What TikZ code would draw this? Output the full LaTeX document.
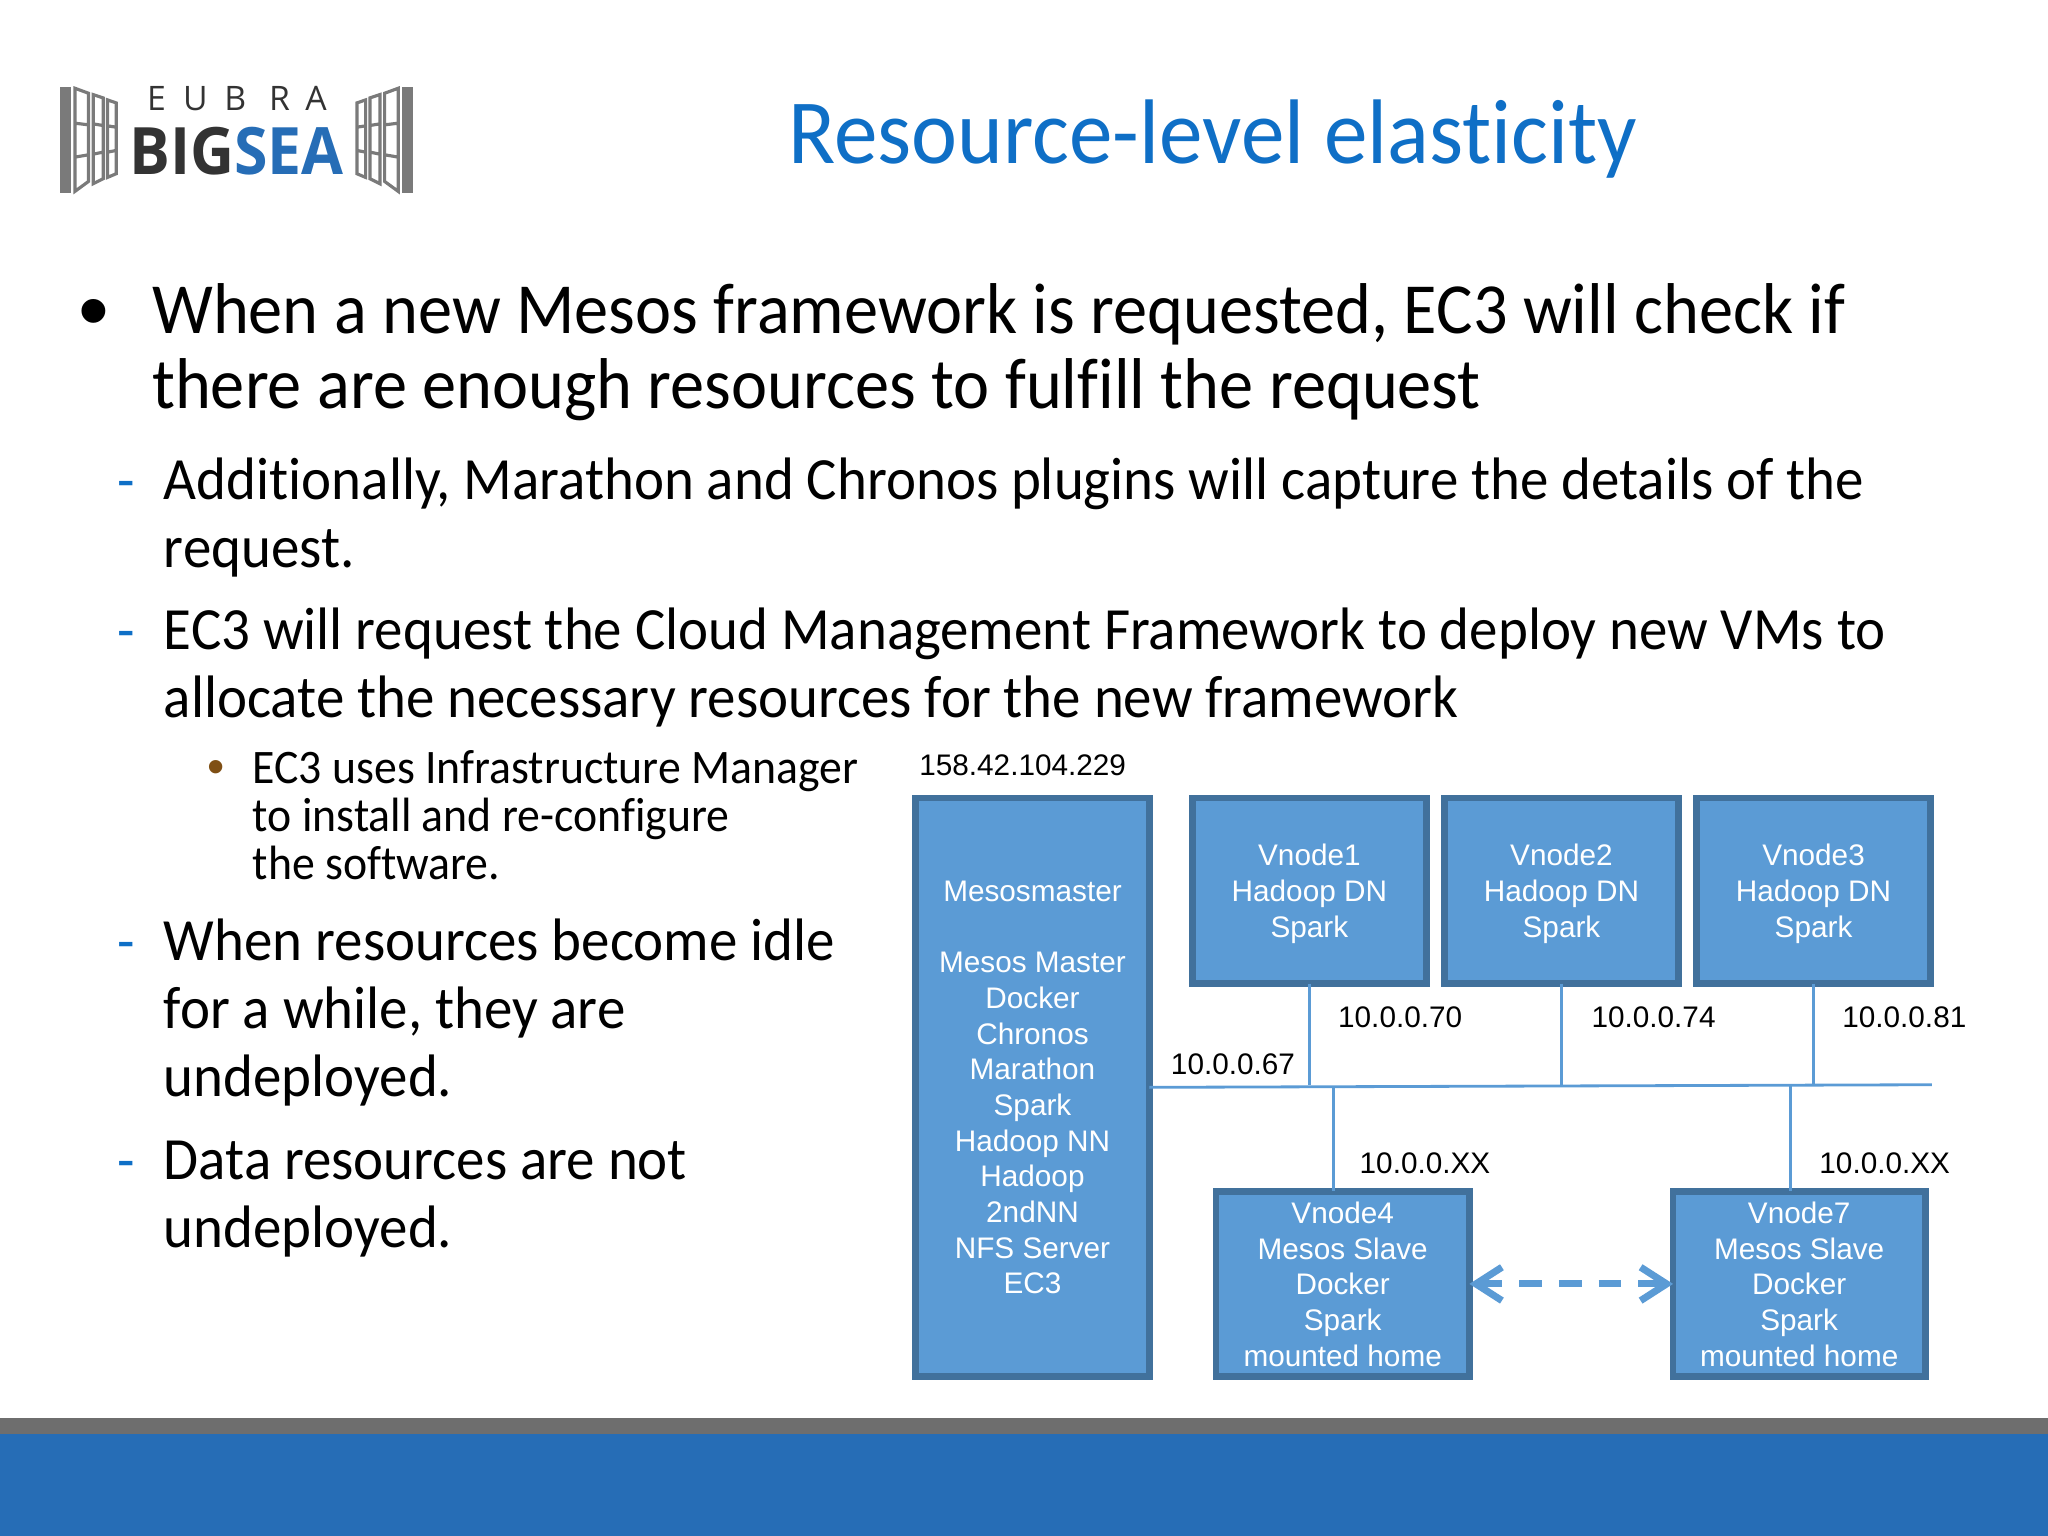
\documentclass[tikz,border=0pt]{standalone}
\usepackage{fontspec}
\usetikzlibrary{arrows.meta}
\setmainfont[Ligatures=CommonOff,FakeStretch=0.95]{Carlito}
\newfontfamily\boxfont{Liberation Sans}
\newfontfamily\logofont{Open Sans}
\definecolor{titleblue}{HTML}{0F6FC6}
\definecolor{barblue}{HTML}{266DB6}
\definecolor{bargray}{HTML}{6E6E6E}
\definecolor{nodefill}{HTML}{5B9BD5}
\definecolor{nodeline}{HTML}{41719C}
\definecolor{logogray}{HTML}{7A7A7A}
\definecolor{logodark}{HTML}{333333}
\definecolor{dotbrown}{HTML}{7F4F14}
\tikzset{
	bigtext/.style={anchor=north west,inner sep=0pt,align=left,font=\fontsize{20.47}{21.2}\selectfont},
	subtext/.style={anchor=north west,inner sep=0pt,align=left,font=\fontsize{17.05}{19.32}\selectfont},
	smalltext/.style={anchor=north west,inner sep=0pt,align=left,font=\fontsize{13.7}{13.75}\selectfont},
	dashmark/.style={anchor=base,inner sep=0pt,text=titleblue,font=\fontsize{17.05}{20}\selectfont},
	vmbox/.style={draw=nodeline,fill=nodefill,line width=1.9pt,outer sep=0pt,inner sep=0pt,align=center,text depth=0pt,
		text=white,minimum width=2.338cm,minimum height=1.855cm,font=\boxfont\fontsize{8.46}{10.15}\selectfont},
	iplabel/.style={inner sep=0pt,text=black,font=\boxfont\fontsize{8.46}{10}\selectfont},
	netline/.style={draw=nodefill,line width=0.8pt},
}
\begin{document}
\begin{tikzpicture}[x=0.0130612cm,y=-0.0130612cm,line join=miter]
	\useasboundingbox (0,0) rectangle (1568,1176);
	\fill[bargray] (0,1086) rectangle (1568,1098);
	\fill[barblue] (0,1098) rectangle (1568,1176);

	\begin{scope}[shift={(30.63,45.94)},x=0.003333cm,y=-0.003333cm]
		\foreach \s in {-1,1} {
			\begin{scope}[shift={(591,0)},xscale=\s]
				\fill[logogray] (-531,80) rectangle (-498,400);
				\draw[logogray,line width=0.9pt] (-486,85)--(-445,100)--(-445,365)--(-486,395)--cycle
				(-486,190)--(-445,195) (-486,292)--(-445,285);
				\draw[logogray,line width=0.9pt] (-431,104)--(-401,114)--(-401,357)--(-431,372)--cycle
				(-431,192)--(-401,197) (-431,283)--(-401,277);
				\draw[logogray,line width=0.9pt] (-388,120)--(-362,129)--(-362,342)--(-388,353)--cycle
				(-388,198)--(-362,202) (-388,277)--(-362,272);
			\end{scope}
		}
		\foreach \letter/\xpos in {E/350,U/467,B/587,R/720,A/830} {
			\node[anchor=base,inner sep=0pt,text=logodark,font=\logofont\fontsize{9.6}{10}\selectfont] (eubra\letter) at (\xpos,152) {\letter};
		}
		\node[anchor=base,inner sep=0pt,font=\logofont\bfseries\addfontfeature{FakeStretch=0.93}\fontsize{18.6}{20}\selectfont] (bigsea) at (591,345)
		{\textcolor{logodark}{BIG}\textcolor{barblue}{SEA}};
	\end{scope}

	\node[anchor=base,inner sep=0pt,text=titleblue,font=\fontsize{26.1}{30}\selectfont] (title) at (928.5,125.5) {Resource-level elasticity};

	\node[anchor=base,inner sep=0pt,font=\boxfont\fontsize{25}{25}\selectfont] (dot1) at (71.5,261) {•};
	\node[bigtext] (para1) at (116,216.9) {When a new Mesos framework is requested, EC3 will check if\\there are enough resources to fulfill the request};
	\node[dashmark] (dash1) at (97,383) {-};
	\node[subtext] (para2) at (125,349.9) {Additionally, Marathon and Chronos plugins will capture the details of the\\request.};
	\node[dashmark] (dash2) at (97,498) {-};
	\node[subtext] (para3) at (125,464.9) {EC3 will request the Cloud Management Framework to deploy new VMs to\\allocate the necessary resources for the new framework};
	\node[anchor=base,inner sep=0pt,text=dotbrown,font=\boxfont\fontsize{14}{16}\selectfont] (dot2) at (165.5,600) {•};
	\node[smalltext] (para4) at (193,573.8) {EC3 uses Infrastructure Manager\\to install and re-configure\\the software.};
	\node[dashmark] (dash3) at (97,736) {-};
	\node[subtext] (para5) at (125,702.9) {When resources become idle\\for a while, they are\\undeployed.};
	\node[dashmark] (dash4) at (97,904) {-};
	\node[subtext] (para6) at (125,872.9) {Data resources are not\\undeployed.};

	\node[vmbox,minimum height=5.786cm] (master) at (790.5,832.5) {Mesosmaster\\[10.15pt]Mesos Master\\Docker\\Chronos\\Marathon\\Spark\\Hadoop NN\\Hadoop\\2ndNN\\NFS Server\\EC3};
	\node[vmbox] (vnode1) at (1002.5,682) {Vnode1\\Hadoop DN\\Spark};
	\node[vmbox] (vnode2) at (1195.5,682) {Vnode2\\Hadoop DN\\Spark};
	\node[vmbox] (vnode3) at (1388.5,682) {Vnode3\\Hadoop DN\\Spark};
	\node[vmbox,minimum width=2.534cm] (vnode4) at (1028,983) {Vnode4\\Mesos Slave\\Docker\\Spark\\mounted home};
	\node[vmbox,minimum width=2.521cm] (vnode7) at (1377.5,983) {Vnode7\\Mesos Slave\\Docker\\Spark\\mounted home};

	\coordinate (busend) at (1479,830.5);
	\coordinate (tap4) at (1021,831.5);
	\coordinate (tap7) at (1371,831);
	\draw[netline] (master.east)--(busend);
	\foreach \n in {vnode1,vnode2,vnode3} {
		\draw[netline] (\n.south)--(\n.south |- busend);
	}
	\draw[netline] (tap4)--(tap4 |- vnode4.north);
	\draw[netline] (tap7)--(tap7 |- vnode7.north);
	\draw[draw=nodefill,line width=2pt,dash pattern=on 6.5pt off 4.8pt,{Straight Barb[length=7.4pt,width=9.5pt]}-{Straight Barb[length=7.4pt,width=9.5pt]}] (vnode4.east)--(vnode7.west);

	\path
	(783,586) node[iplabel] (ipmaster) {158.42.104.229}
	(1072,779) node[iplabel] (ipone) {10.0.0.70}
	(1266,779) node[iplabel] (iptwo) {10.0.0.74}
	(1458,779) node[iplabel] (ipthree) {10.0.0.81}
	(944,815) node[iplabel] (ipbus) {10.0.0.67}
	(1091,891) node[iplabel] (ipfour) {10.0.0.XX}
	(1443,891) node[iplabel] (ipseven) {10.0.0.XX}
	;
\end{tikzpicture}
\end{document}
